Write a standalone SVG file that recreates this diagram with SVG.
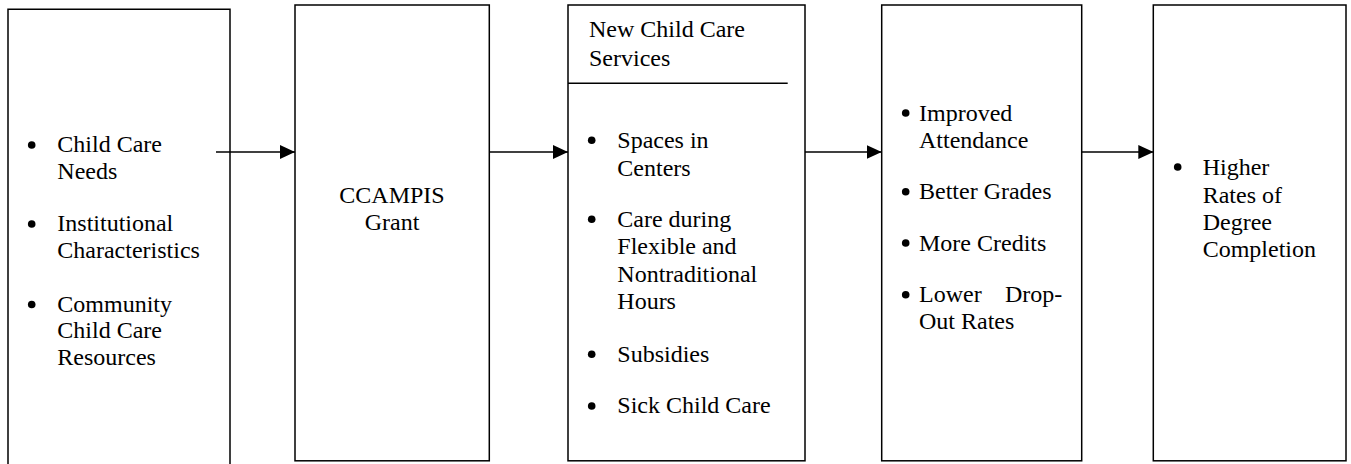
<svg xmlns="http://www.w3.org/2000/svg" width="1351" height="464" viewBox="0 0 1351 464">
<style>
.box{fill:#fff;stroke:#000;stroke-width:1.5}
.t{font-family:"Liberation Serif","Times New Roman",serif;font-size:24px;fill:#000}
.c{text-anchor:middle}
.b{fill:#000}
.conn{stroke:#000;stroke-width:1.4;fill:none}
</style>
<defs>
<marker id="ah" markerUnits="userSpaceOnUse" markerWidth="15" markerHeight="14" refX="15" refY="7" orient="auto">
<path d="M0,0 L15,7 L0,14 z" fill="#000"/>
</marker>
</defs>
<rect width="1351" height="464" fill="#fff"/>
<g id="inputs">
<path class="box" d="M8,470 V9.3 H230 V470"/>
<circle class="b" cx="31.7" cy="145" r="3.8"/>
<text class="t" x="57.3" y="152.3">Child Care</text>
<text class="t" x="57.3" y="179.3">Needs</text>
<circle class="b" cx="31.7" cy="224" r="3.8"/>
<text class="t" x="57.3" y="231.3">Institutional</text>
<text class="t" x="57.3" y="258">Characteristics</text>
<circle class="b" cx="31.7" cy="304.5" r="3.8"/>
<text class="t" x="57.3" y="311.7">Community</text>
<text class="t" x="57.3" y="338.3">Child Care</text>
<text class="t" x="57.3" y="365">Resources</text>
</g>
<g id="grant">
<rect class="box" x="295" y="5" width="194.3" height="455.8"/>
<text class="t c" x="392" y="202.7">CCAMPIS</text>
<text class="t c" x="392" y="230">Grant</text>
</g>
<g id="services">
<rect class="box" x="568" y="5" width="237" height="455.8"/>
<line class="box" x1="568" y1="83.3" x2="787.7" y2="83.3"/>
<text class="t" x="589" y="37.3">New Child Care</text>
<text class="t" x="589" y="65.7">Services</text>
<circle class="b" cx="591.7" cy="140.3" r="3.8"/>
<text class="t" x="617.3" y="147.7">Spaces in</text>
<text class="t" x="617.3" y="175.7">Centers</text>
<circle class="b" cx="591.7" cy="219.3" r="3.8"/>
<text class="t" x="617.3" y="226.7">Care during</text>
<text class="t" x="617.3" y="254">Flexible and</text>
<text class="t" x="617.3" y="281.7">Nontraditional</text>
<text class="t" x="617.3" y="309.3">Hours</text>
<circle class="b" cx="591.7" cy="354.3" r="3.8"/>
<text class="t" x="617.3" y="361.7">Subsidies</text>
<circle class="b" cx="591.7" cy="406" r="3.8"/>
<text class="t" x="617.3" y="413.3">Sick Child Care</text>
</g>
<g id="outcomes">
<rect class="box" x="881.7" y="5" width="200" height="455.8"/>
<circle class="b" cx="905.7" cy="113" r="3.8"/>
<text class="t" x="919" y="120.7">Improved</text>
<text class="t" x="919" y="147.7">Attendance</text>
<circle class="b" cx="905.7" cy="191.7" r="3.8"/>
<text class="t" x="919" y="199.3">Better Grades</text>
<circle class="b" cx="905.7" cy="243" r="3.8"/>
<text class="t" x="919" y="250.7">More Credits</text>
<circle class="b" cx="905.7" cy="294.7" r="3.8"/>
<text class="t" x="919" y="302.3">Lower</text>
<text class="t" x="1005" y="302.3">Drop-</text>
<text class="t" x="919" y="329.3">Out Rates</text>
</g>
<g id="completion">
<rect class="box" x="1153.3" y="5" width="192.7" height="455.8"/>
<circle class="b" cx="1177.7" cy="167" r="3.8"/>
<text class="t" x="1202.7" y="175">Higher</text>
<text class="t" x="1202.7" y="202.7">Rates of</text>
<text class="t" x="1202.7" y="230">Degree</text>
<text class="t" x="1202.7" y="257.3">Completion</text>
</g>
<g id="connectors">
<line class="conn" x1="216" y1="152" x2="295" y2="152" marker-end="url(#ah)"/>
<line class="conn" x1="489.3" y1="152" x2="568" y2="152" marker-end="url(#ah)"/>
<line class="conn" x1="805" y1="152" x2="881.7" y2="152" marker-end="url(#ah)"/>
<line class="conn" x1="1081.7" y1="152" x2="1153.3" y2="152" marker-end="url(#ah)"/>
</g>
</svg>
